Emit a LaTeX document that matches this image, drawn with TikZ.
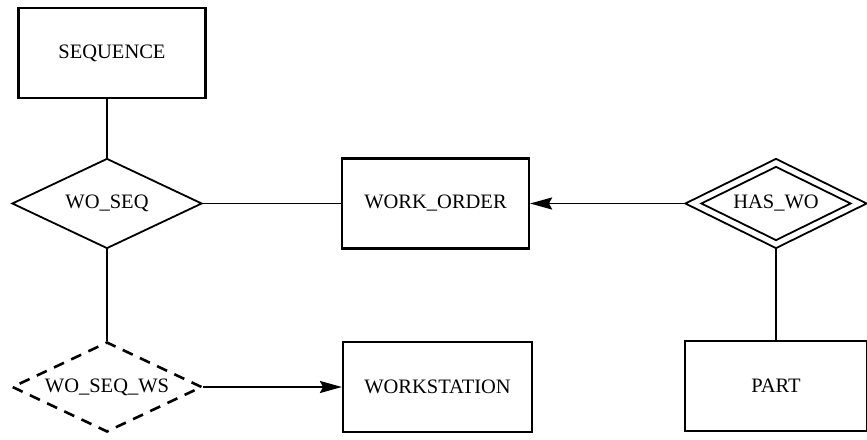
\documentclass[tikz,border=0pt]{standalone}
\usepackage{fontspec}
\setmainfont{Liberation Serif}
\usetikzlibrary{shapes.geometric,arrows.meta}
\begin{document}
\begin{tikzpicture}[x=1pt,y=1pt,
    font=\fontsize{20.5}{24}\selectfont,
    entity/.style={draw,line width=2.1pt,inner sep=0pt,minimum width=187pt,minimum height=90pt},
    relation/.style={draw,diamond,aspect=2.1,line width=1.8pt,inner sep=0pt,minimum width=190pt,minimum height=90pt},
    link/.style={line width=1.8pt},
    arrowlink/.style={line width=1.8pt,-{Stealth[length=22pt,width=12pt,inset=3pt]}}]
    \useasboundingbox (0,0) rectangle (867,439);
    \node[entity] (sequence) at (112,386) {SEQUENCE};
    \node[relation] (woseq) at (107,235.5) {WO\_SEQ};
    \node[entity] (workorder) at (435.5,235.5) {WORK\_ORDER};
    \node[relation,minimum width=182pt] (haswo) at (776,235.5) {};
    \node[relation,minimum width=150pt,minimum height=74pt] (haswoin) at (haswo) {HAS\_WO};
    \node[entity,minimum width=182pt] (part) at (776,53) {PART};
    \node[relation,minimum width=190pt,line width=2.6pt,dash pattern=on 11pt off 8pt] (woseqws) at (107,52) {WO\_SEQ\_WS};
    \node[entity,minimum width=189pt] (workstation) at (437.5,52) {WORKSTATION};
    \draw[link] (woseq.north) -- (woseq.north |- sequence.south);
    \draw[link] (woseq.east) -- (workorder.west);
    \draw[link] (woseq.south) -- (woseqws.north);
    \draw[arrowlink] (haswo.west) -- (workorder.east);
    \draw[link] (haswo.south) -- (part.north);
    \draw[arrowlink] (woseqws.east) -- (workstation.west);
\end{tikzpicture}
\end{document}
